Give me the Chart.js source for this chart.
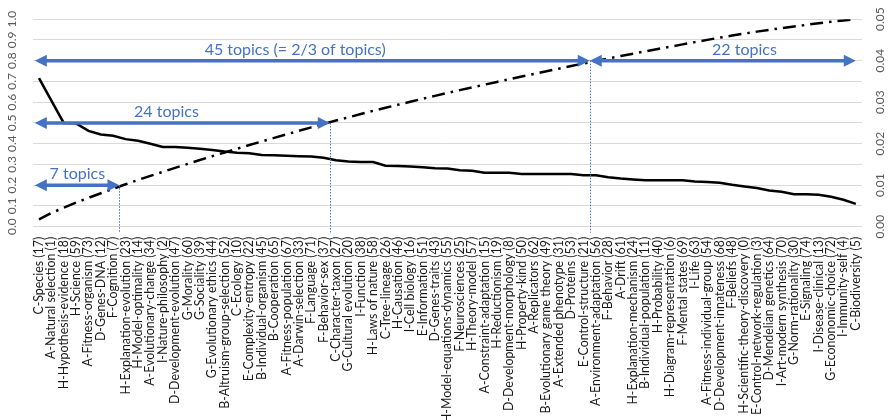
<!DOCTYPE html>
<html>
<head>
<meta charset="utf-8">
<script src="https://cdn.jsdelivr.net/npm/chart.js@4/dist/chart.umd.min.js"></script>
<style>
  html, body { margin: 0; padding: 0; background: #ffffff; }
  canvas { display: block; }
</style>
</head>
<body>
<canvas id="chart" width="889" height="420"></canvas>
<script>
// Topics, ordered by their share of the corpus
const topics = [
  'C-Species (17)', 'A-Natural selection (1)', 'H-Hypothesis-evidence (18)', 'H-Science (59)',
  'A-Fitness-organism (73)', 'D-Genes-DNA (12)', 'F-Cognition (7)', 'H-Explanation-evolution (23)',
  'H-Model-optimality (14)', 'A-Evolutionary-change (34)', 'I-Nature-philosophy (2)',
  'D-Development-evolution (47)', 'G-Morality (60)', 'G-Sociality (39)', 'G-Evolutionary ethics (44)',
  'B-Altruism-group-selection (52)', 'C-Ecology (10)', 'E-Complexity-entropy (22)',
  'B-Individual-organism (45)', 'B-Cooperation (65)', 'A-Fitness-population (67)',
  'A-Darwin-selection (33)', 'F-Language (71)', 'F-Behavior-sex (37)', 'C-Character-taxon (27)',
  'G-Cultural evolution (20)', 'I-Function (38)', 'H-Laws of nature (58)', 'C-Tree-lineage (26)',
  'H-Causation (46)', 'I-Cell biology (16)', 'E-Information (51)', 'D-Genes-traits (43)',
  'H-Model-equations-dynamics (55)', 'F-Neurosciences (25)', 'H-Theory-model (57)',
  'A-Constraint-adaptation (15)', 'H-Reductionism (19)', 'D-Development-morphology (8)',
  'H-Property-kind (50)', 'A-Replicators (62)', 'B-Evolutionary game theory (49)',
  'A-Extended phenotype (31)', 'D-Proteins (53)', 'E-Control-structure (21)',
  'A-Environment-adaptation (56)', 'F-Behavior (28)', 'A-Drift (61)', 'H-Explanation-mechanism (24)',
  'B-Individual-population (11)', 'H-Probability (40)', 'H-Diagram-representation (6)',
  'F-Mental states (69)', 'I-Life (63)', 'A-Fitness-individual-group (54)',
  'D-Development-innateness (68)', 'F-Beliefs (48)', 'H-Scientific-theory-discovery (0)',
  'E-Control-network-regulation (3)', 'D-Mendelian genetics (64)', 'I-Art-modern synthesis (70)',
  'G-Norm-rationality (30)', 'E-Signaling (74)', 'I-Disease-clinical (13)',
  'G-Econonomic-choice (72)', 'I-Immunity-self (4)', 'C-Biodiversity (5)'
];

// Weight of each topic (right axis)
const topicWeight = [
  0.0358, 0.0304, 0.0250, 0.0249, 0.0231, 0.0222, 0.0219, 0.0211, 0.0207, 0.0200,
  0.0192, 0.0192, 0.0190, 0.0188, 0.0185, 0.0181, 0.0178, 0.0177, 0.0173, 0.0172,
  0.0171, 0.0170, 0.0169, 0.0166, 0.0160, 0.0157, 0.0156, 0.0156, 0.0147, 0.0146,
  0.0145, 0.0143, 0.0141, 0.0140, 0.0136, 0.0135, 0.0130, 0.0130, 0.0130, 0.0127,
  0.0127, 0.0127, 0.0127, 0.0127, 0.0124, 0.0124, 0.0119, 0.0116, 0.0114, 0.0112,
  0.0112, 0.0112, 0.0112, 0.0109, 0.0108, 0.0106, 0.0101, 0.0097, 0.0093, 0.0087,
  0.0084, 0.0078, 0.0078, 0.0077, 0.0072, 0.0065, 0.0055
];

// Cumulative share of the corpus (left axis)
const cumulativeShare = [
  0.0358, 0.0662, 0.0912, 0.1161, 0.1392, 0.1614, 0.1833, 0.2044, 0.2251, 0.2451,
  0.2643, 0.2835, 0.3025, 0.3213, 0.3398, 0.3579, 0.3757, 0.3934, 0.4107, 0.4279,
  0.4450, 0.4620, 0.4789, 0.4955, 0.5115, 0.5272, 0.5428, 0.5584, 0.5731, 0.5877,
  0.6022, 0.6165, 0.6306, 0.6446, 0.6582, 0.6717, 0.6847, 0.6977, 0.7107, 0.7234,
  0.7361, 0.7488, 0.7615, 0.7742, 0.7866, 0.7990, 0.8109, 0.8225, 0.8339, 0.8451,
  0.8563, 0.8675, 0.8787, 0.8896, 0.9004, 0.9110, 0.9211, 0.9308, 0.9401, 0.9488,
  0.9572, 0.9650, 0.9728, 0.9805, 0.9877, 0.9942, 0.9997
];

// Axis ranges and tick steps
const leftAxisRange = [0, 1, 0.1];
const rightAxisRange = [0, 0.05, 0.01];

// Brackets: number of leading topics and the cumulative share they reach
const bracketCounts = [7, 24, 45];
const bracketShares = [0.2, 0.5, 0.8];
const bracketTexts = ['7 topics', '24 topics', '45 topics (= 2/3 of topics)'];
const remainderText = (topics.length - 45) + ' topics';

const BLUE = '#4472C4';

function arrowHead(ctx, tipX, y, dir, len, half) {
  ctx.beginPath();
  ctx.moveTo(tipX, y);
  ctx.lineTo(tipX - dir * len, y - half);
  ctx.lineTo(tipX - dir * len, y + half);
  ctx.closePath();
  ctx.fill();
}

function doubleArrow(ctx, x1, x2, y) {
  const len = 12, half = 6;
  ctx.save();
  ctx.strokeStyle = BLUE;
  ctx.fillStyle = BLUE;
  ctx.lineWidth = 3.5;
  ctx.beginPath();
  ctx.moveTo(x1 + len - 1, y);
  ctx.lineTo(x2 - len + 1, y);
  ctx.stroke();
  arrowHead(ctx, x1, y, -1, len, half);
  arrowHead(ctx, x2, y, 1, len, half);
  ctx.restore();
}

const bracketPlugin = {
  id: 'brackets',
  afterDatasetsDraw(chart, args, opts) {
    const ctx = chart.ctx;
    const x = chart.scales.x;
    const y = chart.scales.y;
    const area = chart.chartArea;
    const leftTip = area.left + 2;

    ctx.save();
    // dotted guides at the bracket boundaries
    ctx.strokeStyle = BLUE;
    ctx.lineWidth = 1;
    ctx.setLineDash([1.5, 1.5]);
    bracketCounts.forEach((n, i) => {
      const px = Math.round(x.getPixelForValue(n - 0.5)) + 0.5;
      ctx.beginPath();
      ctx.moveTo(px, y.getPixelForValue(bracketShares[i]));
      ctx.lineTo(px, area.bottom + 6);
      ctx.stroke();
    });
    ctx.setLineDash([]);

    ctx.font = '16px Lato';
    ctx.fillStyle = BLUE;
    ctx.textAlign = 'center';
    ctx.textBaseline = 'alphabetic';

    bracketCounts.forEach((n, i) => {
      const py = y.getPixelForValue(bracketShares[i]);
      const right = x.getPixelForValue(n - 0.5);
      doubleArrow(ctx, leftTip, right, py);
      ctx.fillText(bracketTexts[i], x.getPixelForValue(opts.textAt[i]), py - 6);
    });

    // the remaining topics after the 2/3 mark
    const last = bracketCounts.length - 1;
    const py = y.getPixelForValue(bracketShares[last]);
    doubleArrow(ctx, x.getPixelForValue(bracketCounts[last] - 0.5), x.getPixelForValue(topics.length - 1), py);
    ctx.fillText(remainderText, x.getPixelForValue(opts.textAt[last + 1]), py - 6);
    ctx.restore();
  }
};

Chart.defaults.font.family = 'Lato, "Open Sans", sans-serif';

new Chart(document.getElementById('chart'), {
  type: 'line',
  data: {
    labels: topics,
    datasets: [
      {
        label: 'Topic weight',
        data: topicWeight,
        yAxisID: 'y2',
        borderColor: '#000000',
        borderWidth: 2.5,
        pointRadius: 0,
        tension: 0,
        fill: false
      },
      {
        label: 'Cumulative share',
        data: cumulativeShare,
        yAxisID: 'y',
        borderColor: '#000000',
        borderWidth: 2.5,
        borderDash: [13, 6, 2.5, 6],
        borderCapStyle: 'butt',
        pointRadius: 0,
        tension: 0,
        fill: false
      }
    ]
  },
  options: {
    responsive: false,
    animation: false,
    layout: { padding: { top: 17, left: 0, right: 0, bottom: 0 } },
    plugins: {
      legend: { display: false },
      tooltip: { enabled: false },
      brackets: { textAt: [3.1, 10.3, 20.7, 57.0] }
    },
    scales: {
      x: {
        offset: true,
        grid: { display: false },
        border: { display: false },
        ticks: {
          autoSkip: false,
          minRotation: 90,
          maxRotation: 90,
          padding: 2,
          color: '#1a1a1a',
          font: { size: 12.4 }
        },
        afterFit(scale) { scale.height = 193.3; }
      },
      y: {
        position: 'left',
        min: leftAxisRange[0],
        max: leftAxisRange[1],
        ticks: {
          stepSize: leftAxisRange[2],
          autoSkip: false,
          minRotation: 90,
          crossAlign: 'center',
          padding: 12,
          color: '#595959',
          font: { size: 12 },
          callback: v => Number(v).toFixed(1)
        },
        grid: { color: '#d9d9d9', lineWidth: 1, drawTicks: false },
        border: { display: false },
        afterFit(scale) { scale.width = 32.8; }
      },
      y2: {
        position: 'right',
        min: rightAxisRange[0],
        max: rightAxisRange[1],
        ticks: {
          stepSize: rightAxisRange[2],
          autoSkip: false,
          minRotation: 90,
          crossAlign: 'center',
          padding: 6,
          color: '#595959',
          font: { size: 12 },
          callback: v => Number(v).toFixed(2)
        },
        grid: { display: false, drawTicks: false },
        border: { display: false },
        afterFit(scale) { scale.width = 27; }
      }
    }
  },
  plugins: [bracketPlugin]
});
</script>
</body>
</html>
